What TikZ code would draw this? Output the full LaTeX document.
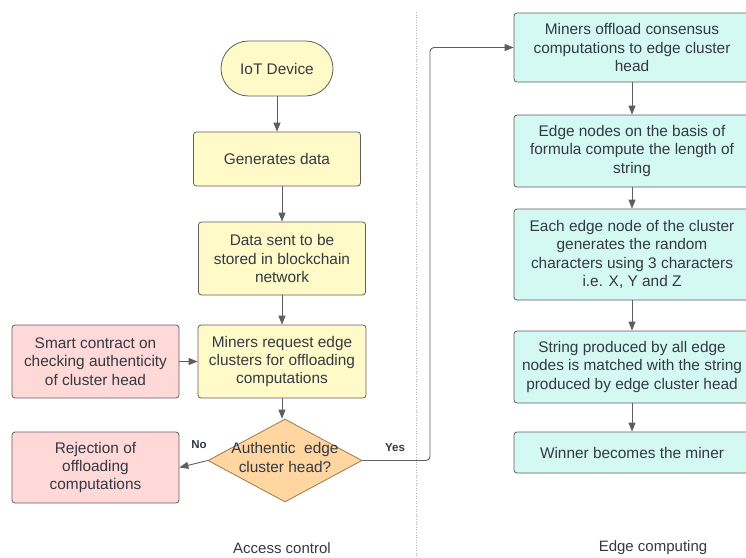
\documentclass[tikz,border=0pt]{standalone}
\usepackage{fontspec}
\setmainfont{Liberation Sans}
\usetikzlibrary{shapes.geometric,arrows.meta}
\definecolor{txt}{HTML}{333A44}
\definecolor{edge}{HTML}{5E5E5E}
\definecolor{yel}{HTML}{FFFAC8}
\definecolor{pnk}{HTML}{FFD8D8}
\definecolor{cyn}{HTML}{D4F8F2}
\definecolor{org}{HTML}{FFD5A0}
\definecolor{orgb}{HTML}{9C7A4E}
\tikzset{
  box/.style={draw=edge, line width=0.8pt, rounded corners=3pt, align=center, text=txt, inner sep=0pt,
     font=\fontsize{15.4}{18.4}\selectfont},
  ybox/.style={box, fill=yel},
  pbox/.style={box, fill=pnk},
  cbox/.style={box, fill=cyn},
  conn/.style={draw=edge, line width=0.9pt, -{Triangle[length=9pt,width=7pt]}},
  lbl/.style={text=txt, font=\fontsize{11.5}{13}\selectfont\bfseries},
  captext/.style={text=txt, font=\fontsize{15}{18}\selectfont}
}
\begin{document}
\begin{tikzpicture}[x=1pt,y=-1pt]
\useasboundingbox (0,0) rectangle (746,557);
\fill[white] (0,0) rectangle (746,557);
% divider
\draw[gray!60, line width=0.6pt, dotted] (416,12) -- (416,557);

% left column
\node[ybox, rounded corners=27.5pt, minimum width=112pt, minimum height=55pt] (iot) at (277,68.5) {IoT Device};
\node[ybox, minimum width=167pt, minimum height=54pt] (gen) at (277,159) {Generates data};
\node[ybox, minimum width=167pt, minimum height=73pt] (data) at (282,258.5) {Data sent to be\\stored in blockchain\\network};
\node[ybox, minimum width=168pt, minimum height=73pt] (req) at (282,361.5) {Miners request edge\\clusters for offloading\\computations};
\node[pbox, minimum width=167pt, minimum height=73pt] (smart) at (95.5,361.5) {Smart contract on\\checking authenticity\\of cluster head};
\node[diamond, draw=orgb, line width=0.8pt, fill=org, minimum width=154pt, minimum height=83pt, inner sep=0pt] (dia) at (285,460.5) {};
\node[text=txt, align=center, font=\fontsize{15.4}{18.4}\selectfont] (diat) at (285,457.5) {Authentic\ \ edge\\cluster head?};
\node[pbox, minimum width=167pt, minimum height=71pt] (rej) at (95.5,467.5) {Rejection of\\offloading\\computations};

% right column
\node[cbox, minimum width=236pt, minimum height=69pt] (b1) at (632,47.5) {Miners offload consensus\\computations to edge cluster\\head};
\node[cbox, minimum width=236pt, minimum height=72pt] (b2) at (632,151) {Edge nodes on the basis of\\formula compute the length of\\string};
\node[cbox, minimum width=236pt, minimum height=91pt] (b3) at (632,254.5) {Each edge node of the cluster\\generates the random\\characters using 3 characters\\i.e. X, Y and Z};
\node[cbox, minimum width=236pt, minimum height=72pt] (b4) at (632,367) {String produced by all edge\\nodes is matched with the string\\produced by edge cluster head};
\node[cbox, minimum width=236pt, minimum height=41pt] (b5) at (632,452.5) {Winner becomes the miner};

% connectors left
\draw[conn] (iot.south) -- (gen.north);
\draw[conn] (data.north |- gen.south) -- (data.north);
\draw[conn] (data.south) -- (req.north);
\draw[conn] (req.south) -- (req.south |- dia.north);
\draw[conn] (smart.east) -- (req.west);
\draw[conn] (dia.west) -- (rej.east);
\coordinate (yc) at (430,460.5);
\draw[conn, rounded corners=4pt] (dia.east) -- (yc) -- (yc |- b1.west) -- (b1.west);
\node[lbl] (no) at (199,445) {No};
\node[lbl] (yes) at (395,448) {Yes};

% connectors right
\draw[conn] (b1.south) -- (b2.north);
\draw[conn] (b2.south) -- (b3.north);
\draw[conn] (b3.south) -- (b4.north);
\draw[conn] (b4.south) -- (b5.north);

% captions
\node[captext] (c1) at (282,548) {Access control};
\node[captext] (c2) at (653,548) {Edge computing};
\end{tikzpicture}
\end{document}
